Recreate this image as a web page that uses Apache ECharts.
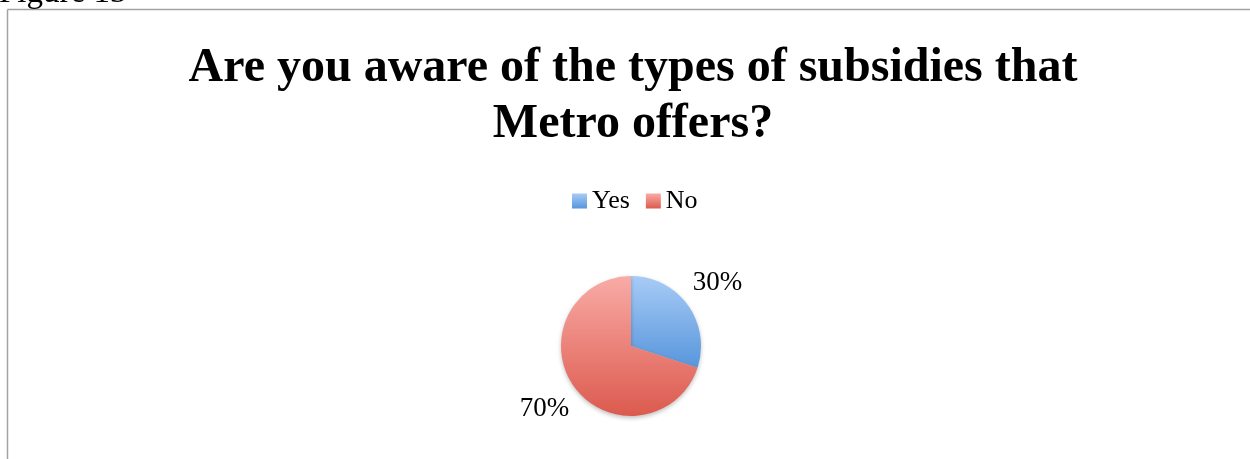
<!DOCTYPE html>
<html>
<head>
<meta charset="utf-8">
<script src="https://cdn.jsdelivr.net/npm/echarts@6/dist/echarts.min.js"></script>
<style>
  html, body { margin: 0; padding: 0; background: #fff; }
  #chart { width: 1250px; height: 459px; }
</style>
</head>
<body>
<div id="chart"></div>
<script>
// Survey answers and their shares (percent)
const answers = ['Yes', 'No'];
const shares = [30, 70];
const titleText = 'Are you aware of the types of subsidies that\nMetro offers?';
const figureCaption = 'Figure 13';

// Top-to-bottom gradient fills for each answer
const gradients = [
  ['#a8cbf6', '#5796dc'],
  ['#f9aba6', '#dc5a4e']
];

const serif = '"Liberation Serif", "DejaVu Serif", serif';

const chart = echarts.init(document.getElementById('chart'));

const seriesData = answers.map((name, i) => ({
  name: name,
  value: shares[i],
  itemStyle: {
    color: new echarts.graphic.LinearGradient(0, 0, 0, 1, [
      { offset: 0, color: gradients[i][0] },
      { offset: 1, color: gradients[i][1] }
    ])
  }
}));

chart.setOption({
  animation: false,
  backgroundColor: '#ffffff',
  title: {
    text: titleText,
    left: 628,
    textAlign: 'center',
    top: 36,
    textStyle: {
      fontFamily: serif,
      fontWeight: 'bold',
      fontSize: 48,
      lineHeight: 56,
      color: '#000'
    }
  },
  legend: {
    data: answers,
    top: 183,
    left: 567,
    icon: 'rect',
    itemWidth: 15,
    itemHeight: 15,
    itemGap: 16,
    textStyle: {
      fontFamily: serif,
      fontSize: 26,
      color: '#000'
    }
  },
  graphic: [
    {
      type: 'line',
      shape: { x1: 7.5, y1: 9.5, x2: 1250, y2: 9.5 },
      style: { stroke: '#a3a3a3', lineWidth: 1.5 },
      silent: true
    },
    {
      type: 'line',
      shape: { x1: 7.5, y1: 9.5, x2: 7.5, y2: 459 },
      style: { stroke: '#a3a3a3', lineWidth: 1.5 },
      silent: true
    },
    {
      type: 'text',
      left: -1,
      top: -23,
      style: {
        text: figureCaption,
        fontFamily: serif,
        fontSize: 33,
        fill: '#000'
      },
      silent: true
    }
  ],
  series: [
    {
      type: 'pie',
      center: [631, 346],
      radius: 70,
      startAngle: 90,
      clockwise: true,
      data: seriesData,
      itemStyle: {
        shadowBlur: 4,
        shadowOffsetY: 2,
        shadowColor: 'rgba(0,0,0,0.25)'
      },
      label: {
        show: true,
        position: 'outside',
        formatter: '{d}%',
        fontFamily: serif,
        fontSize: 27,
        color: '#000',
        distanceToLabelLine: 0
      },
      labelLine: { show: false, length: 37, length2: 0 },
      labelLayout: function () {
        return { align: 'center', verticalAlign: 'middle' };
      },
      emphasis: { disabled: true }
    }
  ]
});
</script>
</body>
</html>
